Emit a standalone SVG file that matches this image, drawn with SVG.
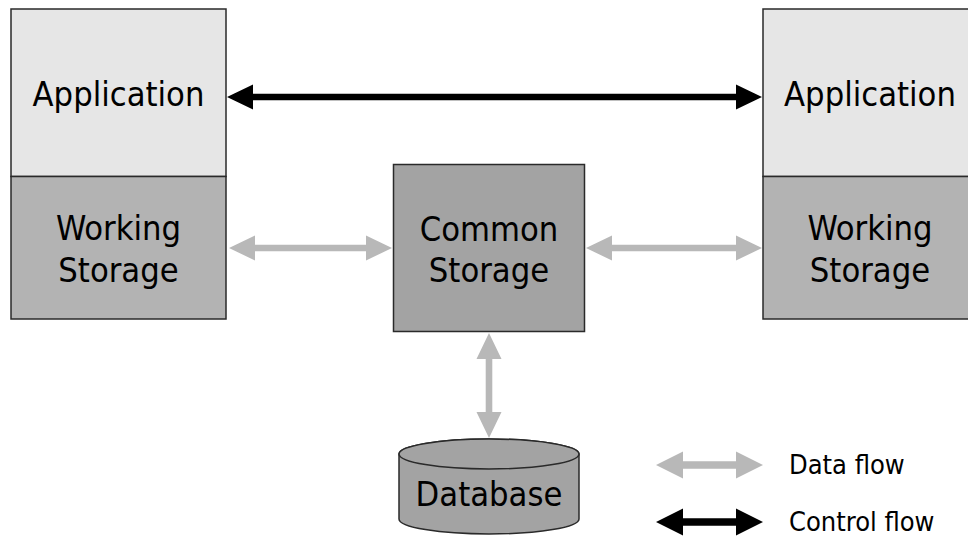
<svg xmlns="http://www.w3.org/2000/svg" width="968" height="536" viewBox="0 0 968 536">
<style>
.t{font-family:"DejaVu Sans Condensed","DejaVu Sans",sans-serif;font-size:34.2px;fill:#000;text-anchor:middle}
.lg{font-family:"DejaVu Sans Condensed","DejaVu Sans",sans-serif;font-size:27px;fill:#000}
.box{stroke:#2a2a2a;stroke-width:1.5}
.app{fill:#e6e6e6}
.ws{fill:#b3b3b3}
.cs{fill:#a3a3a3}
.data{fill:#b8b8b8}
.ctrl{fill:#000}
</style>
<rect width="968" height="536" fill="#fff"/>
<g id="app-left">
<rect class="box app" x="11" y="9" width="215" height="167.5"/>
<text class="t" x="118.5" y="106">Application</text>
</g>
<g id="ws-left">
<rect class="box ws" x="11" y="176.5" width="215" height="142.5"/>
<text class="t" x="118.5" y="240">Working</text>
<text class="t" x="118.5" y="282">Storage</text>
</g>
<g id="app-right">
<rect class="box app" x="763" y="9" width="215" height="167.5"/>
<text class="t" x="870" y="106">Application</text>
</g>
<g id="ws-right">
<rect class="box ws" x="763" y="176.5" width="215" height="142.5"/>
<text class="t" x="870" y="240">Working</text>
<text class="t" x="870" y="282">Storage</text>
</g>
<g id="common-storage">
<rect class="box cs" x="393.5" y="164.5" width="191" height="167"/>
<text class="t" x="489" y="241">Common</text>
<text class="t" x="489" y="282">Storage</text>
</g>
<g id="database">
<path class="box cs" d="M399,454 L399,519 A90,15 0 0 0 579,519 L579,454 A90,15 0 0 0 399,454 Z"/>
<ellipse class="box cs" cx="489" cy="454" rx="90" ry="15"/>
<text class="t" x="489" y="506">Database</text>
</g>
<g id="connectors">
<path class="ctrl" d="M227,97 L253,84.5 L253,93.7 L736,93.7 L736,84.5 L762,97 L736,109.5 L736,100.3 L253,100.3 L253,109.5 Z"/>
<path class="data" d="M229,248 L255,235.5 L255,244.7 L366,244.7 L366,235.5 L392,248 L366,260.5 L366,251.3 L255,251.3 L255,260.5 Z"/>
<path class="data" d="M586,248 L612,235.5 L612,244.7 L736,244.7 L736,235.5 L762,248 L736,260.5 L736,251.3 L612,251.3 L612,260.5 Z"/>
<path class="data" d="M489,333 L501.5,359 L492.3,359 L492.3,412 L501.5,412 L489,438 L476.5,412 L485.7,412 L485.7,359 L476.5,359 Z"/>
</g>
<g id="legend">
<path class="data" d="M656,465 L683,451.5 L683,461.3 L736,461.3 L736,451.5 L763,465 L736,478.5 L736,468.7 L683,468.7 L683,478.5 Z"/>
<text class="lg" x="789" y="474">Data flow</text>
<path class="ctrl" d="M656,522 L683,508.5 L683,518.3 L736,518.3 L736,508.5 L763,522 L736,535.5 L736,525.7 L683,525.7 L683,535.5 Z"/>
<text class="lg" x="789" y="531">Control flow</text>
</g>
</svg>
